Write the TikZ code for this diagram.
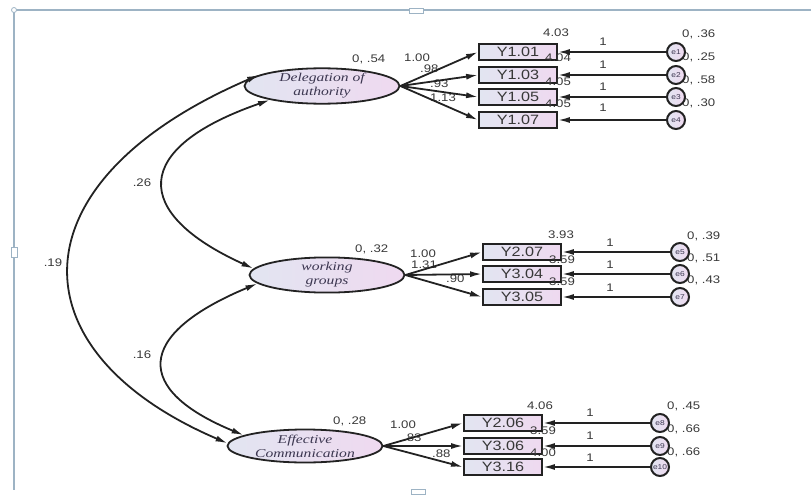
\documentclass[tikz,border=0pt]{standalone}
\usepackage{fontspec}
\setmainfont[FakeStretch=1.2]{Liberation Sans}
\newfontfamily\latfont[FakeStretch=1.3]{Liberation Serif}
\usepackage{tikz}
\usetikzlibrary{shapes,arrows.meta,positioning}
\usepackage{xcolor}
\definecolor{framecol}{HTML}{9DB3C4}
\definecolor{edgecol}{HTML}{222222}
\definecolor{lavleft}{HTML}{E2E5F1}
\definecolor{lavright}{HTML}{EFD9F0}
\definecolor{numcol}{HTML}{383838}
\definecolor{latcol}{HTML}{3B3650}

\begin{document}
\begin{tikzpicture}[x=1pt,y=-1pt,>={Latex[length=12pt,width=6pt]},
    latent/.style={draw=edgecol, line width=1.8pt, ellipse, minimum width=155pt, minimum height=33pt, inner sep=0pt, left color=lavleft, right color=lavright, align=center, text=latcol, font=\latfont\itshape\fontsize{12}{14}\selectfont},
    obsbox/.style={draw=edgecol, line width=1.9pt, rectangle, minimum width=78pt, minimum height=16pt, inner sep=0pt, left color=lavleft, right color=lavright, text=numcol, font=\fontsize{13.5}{13.5}\selectfont},
    errc/.style={draw=edgecol, line width=2pt, circle, minimum size=18pt, inner sep=0pt, left color=lavleft, right color=lavright, text=latcol, font=\fontsize{7}{7}\selectfont},
    num/.style={anchor=base west, inner sep=0pt, text=numcol, font=\fontsize{11}{11}\selectfont},
    one/.style={inner sep=0pt, text=numcol, font=\fontsize{11}{11}\selectfont},
    link/.style={->, line width=1.8pt, draw=edgecol},
    covar/.style={<->, line width=1.8pt, draw=edgecol}]
    \useasboundingbox (0,0) rectangle (811,495);

    \draw[framecol, line width=1.2pt] (811,10) -- (14,10) -- (14,490);
    \draw[framecol, fill=white, line width=0.8pt] (11,247) rectangle (17,257);
    \draw[framecol, fill=white, line width=0.8pt] (409,8) rectangle (423,13);
    \draw[framecol, fill=white, line width=0.8pt] (411,489) rectangle (425,494);
    \draw[framecol, fill=white, line width=0.8pt] (14,10) circle (2.5);

    \node[num] (v1) at (682,38) {0, .36};
    \node[num] (v2) at (682,61) {0, .25};
    \node[num] (v3) at (682,83) {0, .58};
    \node[num] (v4) at (682,106) {0, .30};
    \node[num] (v5) at (687,239) {0, .39};
    \node[num] (v6) at (687,261) {0, .51};
    \node[num] (v7) at (687,283) {0, .43};
    \node[num] (v8) at (667,409) {0, .45};
    \node[num] (v9) at (667,432) {0, .66};
    \node[num] (v10) at (667,455) {0, .66};

    \node[latent] (lat1) at (322,86) {Delegation of\\authority};
    \node[latent] (lat2) at (327,275) {working\\groups};
    \node[latent] (lat3) at (305,446) {Effective\\Communication};

    \node[obsbox] (y101) at (518,52) {Y1.01};
    \node[obsbox] (y103) at (518,75) {Y1.03};
    \node[obsbox] (y105) at (518,97) {Y1.05};
    \node[obsbox] (y107) at (518,120) {Y1.07};
    \node[obsbox] (y207) at (522,252) {Y2.07};
    \node[obsbox] (y304) at (522,274) {Y3.04};
    \node[obsbox] (y305) at (522,297) {Y3.05};
    \node[obsbox] (y206) at (503,423) {Y2.06};
    \node[obsbox] (y306) at (503,446) {Y3.06};
    \node[obsbox] (y316) at (503,467) {Y3.16};

    \node[errc] (e1) at (676,52) {e1};
    \node[errc] (e2) at (676,75) {e2};
    \node[errc] (e3) at (676,97) {e3};
    \node[errc] (e4) at (676,120) {e4};
    \node[errc] (e5) at (680,252) {e5};
    \node[errc] (e6) at (680,274) {e6};
    \node[errc] (e7) at (680,297) {e7};
    \node[errc] (e8) at (660,423) {e8};
    \node[errc] (e9) at (660,446) {e9};
    \node[errc] (e10) at (660,467) {e10};

    \node[num] (i1) at (543,37) {4.03};
    \node[num] (i2) at (545,62) {4.04};
    \node[num] (i3) at (545,85) {4.05};
    \node[num] (i4) at (545,107) {4.05};
    \node[num] (i5) at (548,238) {3.93};
    \node[num] (i6) at (549,263) {3.59};
    \node[num] (i7) at (549,285) {3.59};
    \node[num] (i8) at (527,409) {4.06};
    \node[num] (i9) at (530,434) {3.59};
    \node[num] (i10) at (530,456) {4.00};

    \node[num] (s1) at (352,63) {0, .54};
    \node[num] (s2) at (355,252) {0, .32};
    \node[num] (s3) at (333,424) {0, .28};

    \node[num] (w1) at (404,62) {1.00};
    \node[num] (w2) at (420,73) {.98};
    \node[num] (w3) at (430,88) {.93};
    \node[num] (w4) at (430,101) {1.13};
    \node[num] (w5) at (410,257) {1.00};
    \node[num] (w6) at (411,268) {1.31};
    \node[num] (w7) at (446,282) {.90};
    \node[num] (w8) at (390,428) {1.00};
    \node[num] (w9) at (403,441) {.83};
    \node[num] (w10) at (432,457) {.88};

    \node[one] (o1) at (603,42) {1};
    \node[one] (o2) at (603,65) {1};
    \node[one] (o3) at (603,87) {1};
    \node[one] (o4) at (603,108) {1};
    \node[one] (o5) at (610,243) {1};
    \node[one] (o6) at (610,265) {1};
    \node[one] (o7) at (610,288) {1};
    \node[one] (o8) at (590,413) {1};
    \node[one] (o9) at (590,436) {1};
    \node[one] (o10) at (590,458) {1};

    \node[one] (c19) at (53,263) {.19};
    \node[one] (c26) at (142,183) {.26};
    \node[one] (c16) at (142,355) {.16};

    \draw[link] (lat1.east) -- (y101.west);
    \draw[link] (lat1.east) -- (y103.west);
    \draw[link] (lat1.east) -- (y105.west);
    \draw[link] (lat1.east) -- (y107.west);
    \draw[link] (lat2.east) -- (y207.west);
    \draw[link] (lat2.east) -- (y304.west);
    \draw[link] (lat2.east) -- (y305.west);
    \draw[link] (lat3.east) -- (y206.west);
    \draw[link] (lat3.east) -- (y306.west);
    \draw[link] (lat3.east) -- (y316.west);

    \draw[link] (e1) -- (y101);
    \draw[link] (e2) -- (y103);
    \draw[link] (e3) -- (y105);
    \draw[link] (e4) -- (y107);
    \draw[link] (e5) -- (y207);
    \draw[link] (e6) -- (y304);
    \draw[link] (e7) -- (y305);
    \draw[link] (e8) -- (y206);
    \draw[link] (e9) -- (y306);
    \draw[link] (e10) -- (y316);

    \draw[covar] (lat1.170) .. controls (12,181) and (12,351) .. (lat3.178);
    \draw[covar] (lat1.195) .. controls (131,148) and (131,213) .. (lat2.175);
    \draw[covar] (lat2.187) .. controls (134,335) and (134,390) .. (lat3.170);
\end{tikzpicture}
\end{document}
